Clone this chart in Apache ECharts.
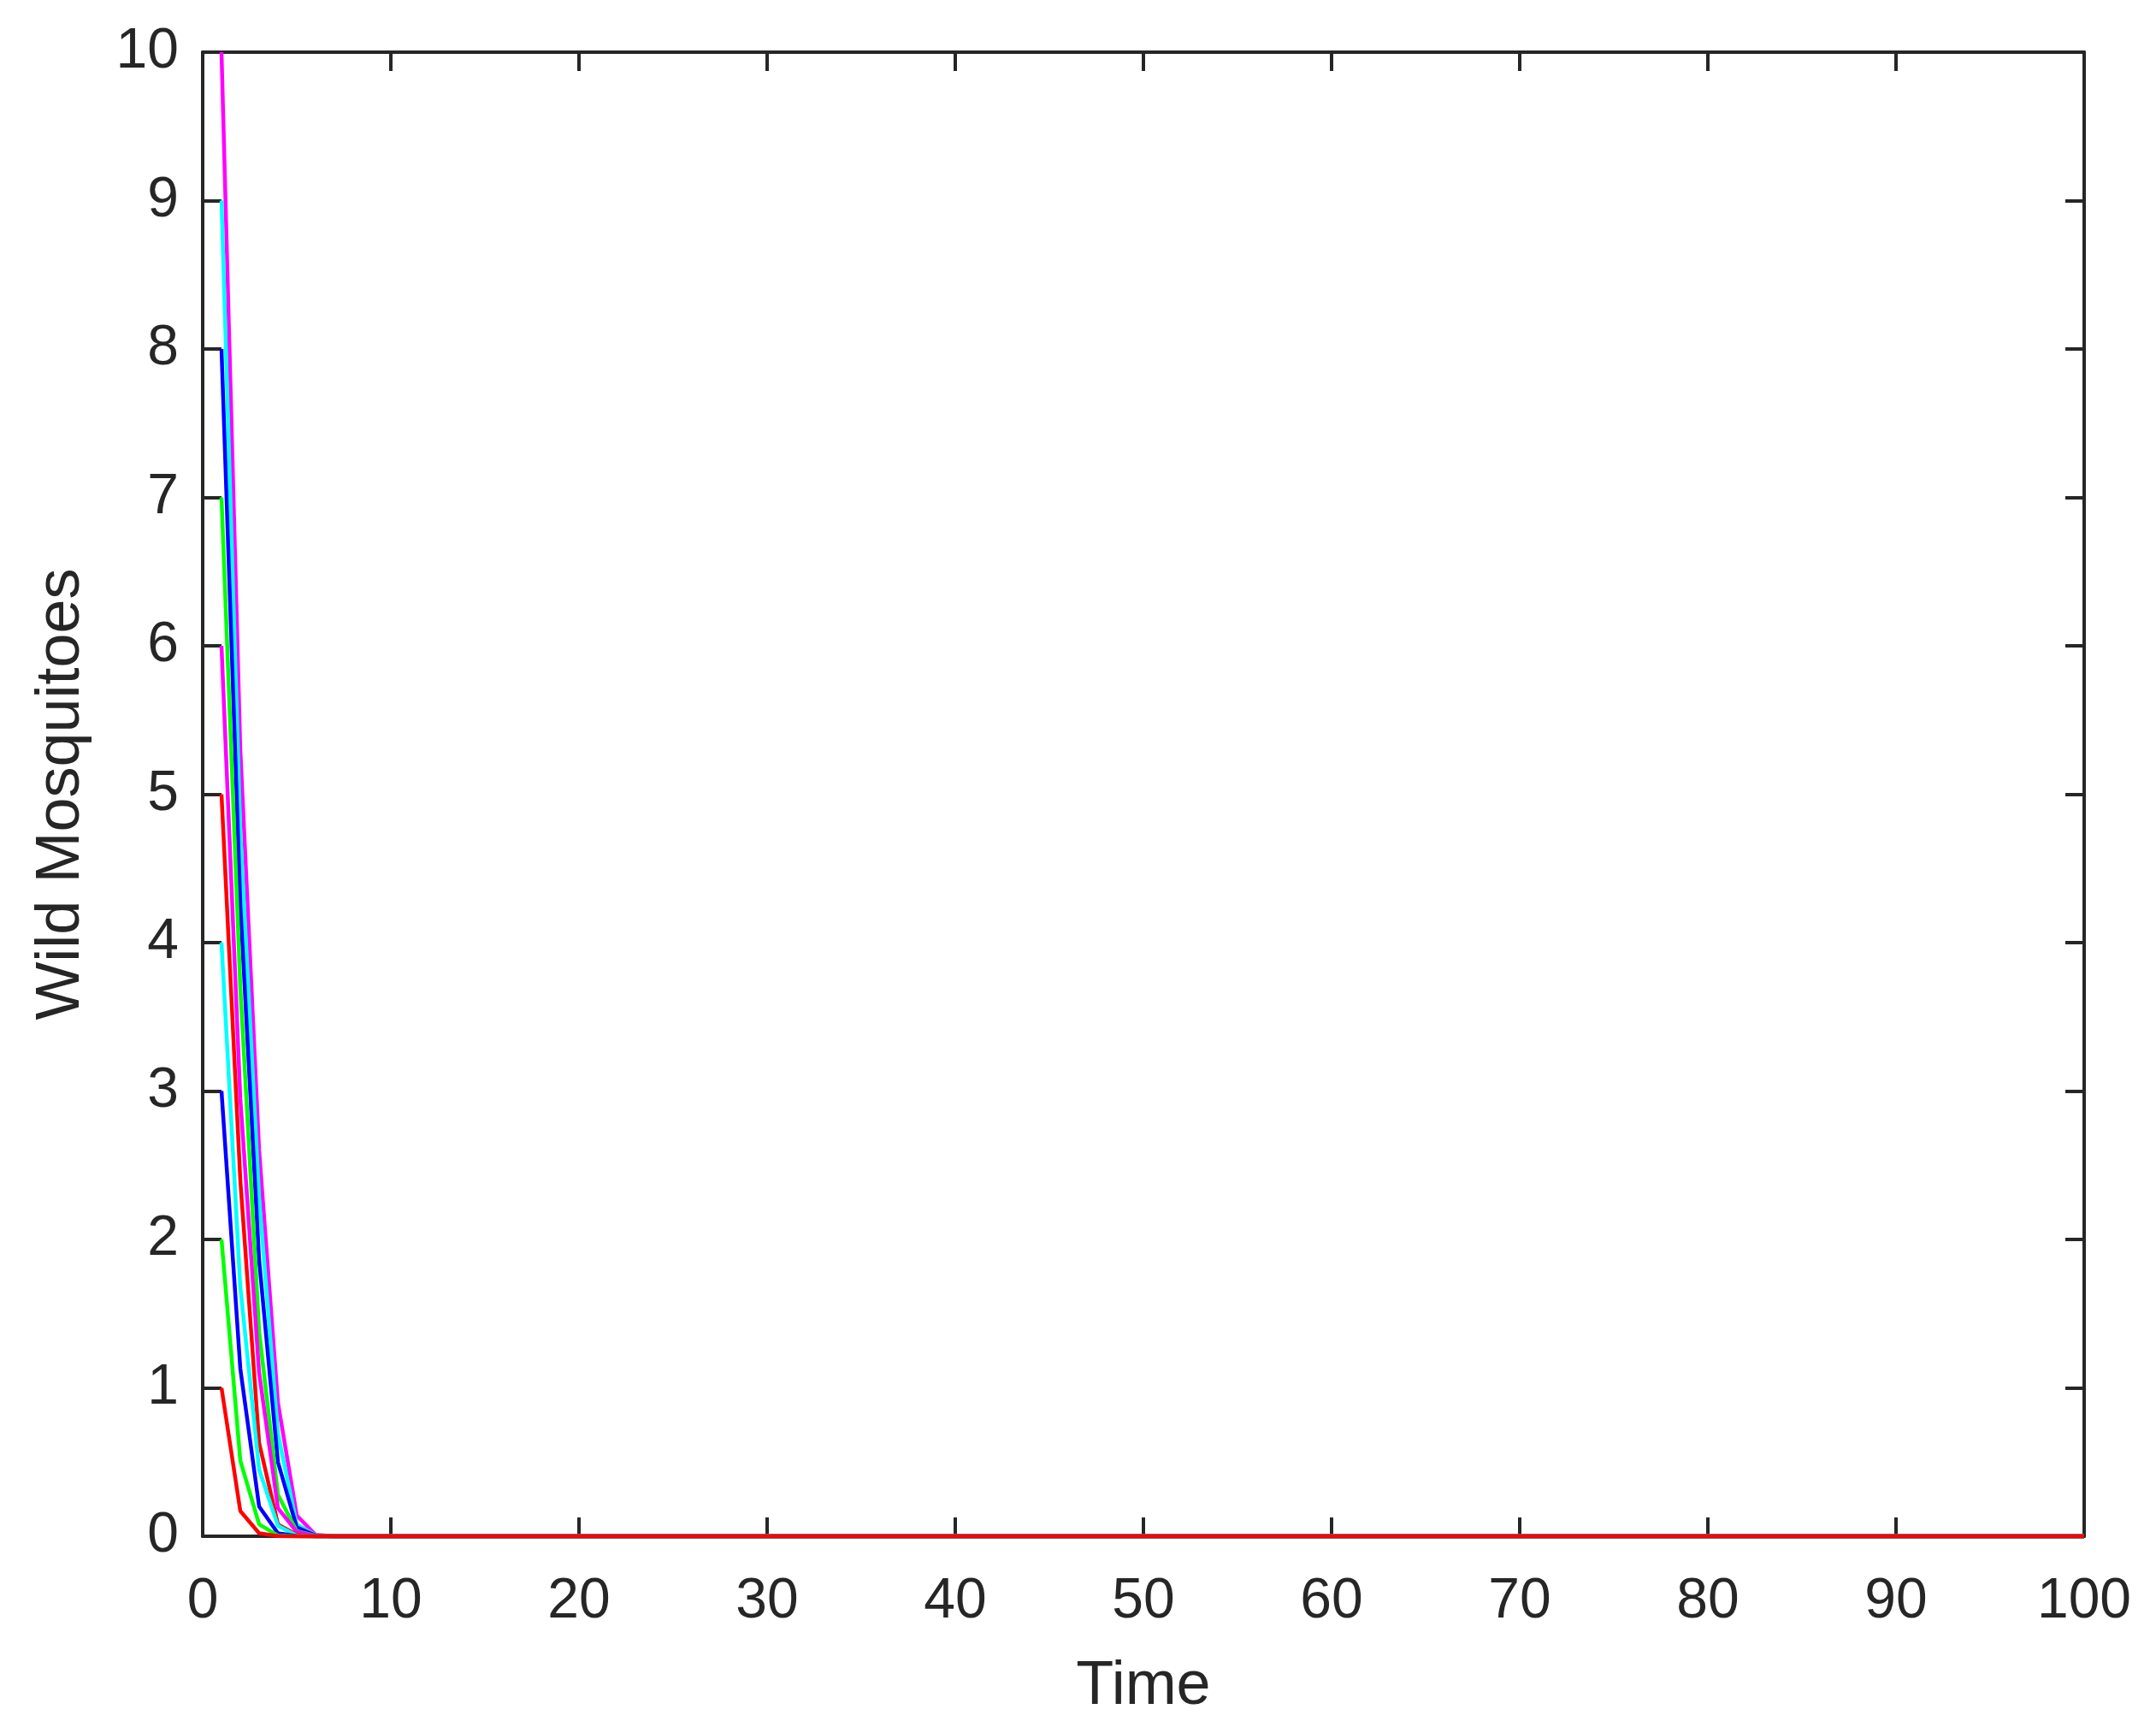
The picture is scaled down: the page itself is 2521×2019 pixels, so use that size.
<!DOCTYPE html>
<html>
<head>
<meta charset="utf-8">
<script src="https://cdn.jsdelivr.net/npm/echarts@6/dist/echarts.min.js"></script>
<style>
html,body{margin:0;padding:0;background:#fff;}
#chart{width:2521px;height:2019px;}
</style>
</head>
<body>
<div id="chart"></div>
<script>
// Time steps (each run then stays at 0 until t = 100)
const times = [1, 2, 3, 4, 5, 6, 7];
const endTime = 100;

// Wild mosquito populations, one run per initial value (1..10)
const run1  = [1,  0.17, 0.02, 0.002, 0,     0,     0];
const run2  = [2,  0.51, 0.08, 0.005, 0,     0,     0];
const run3  = [3,  1.13, 0.20, 0.02,  0.001, 0,     0];
const run4  = [4,  1.68, 0.45, 0.07,  0.005, 0,     0];
const run5  = [5,  2.40, 0.63, 0.08,  0.01,  0,     0];
const run6  = [6,  2.95, 1.10, 0.19,  0.03,  0.002, 0];
const run7  = [7,  3.70, 1.38, 0.28,  0.035, 0.003, 0];
const run8  = [8,  4.26, 1.86, 0.50,  0.06,  0.005, 0];
const run9  = [9,  4.75, 2.28, 0.69,  0.08,  0.007, 0];
const run10 = [10, 5.30, 2.60, 0.90,  0.14,  0.01,  0];

const runs = [run1, run2, run3, run4, run5, run6, run7, run8, run9, run10];
const runColors = ['#ff0000', '#00ff00', '#0000ff', '#00ffff', '#ff0000',
                   '#ff00ff', '#00ff00', '#0000ff', '#00ffff', '#ff00ff'];

const xTicks = { min: 0, max: 100, interval: 10 };
const yTicks = { min: 0, max: 10, interval: 1 };

const axisColor = '#262626';
const font = 'Liberation Sans, Arial, sans-serif';

function makeData(vals) {
  const d = vals.map((v, i) => [times[i], v]);
  d.push([endTime, 0]);
  return d;
}

const series = [];
for (let i = runs.length - 1; i >= 0; i--) {
  series.push({
    type: 'line',
    xAxisIndex: 0,
    yAxisIndex: 0,
    data: makeData(runs[i]),
    showSymbol: false,
    symbol: 'none',
    clip: false,
    lineStyle: { color: runColors[i], width: 4.5 },
    itemStyle: { color: runColors[i] },
    z: 3
  });
}

const lineStyle = { color: axisColor, width: 4 };

const chart = echarts.init(document.getElementById('chart'), null, { renderer: 'canvas' });
chart.setOption({
  animation: false,
  backgroundColor: '#ffffff',
  grid: { left: 237, right: 84, top: 61, bottom: 223, containLabel: false },
  xAxis: [
    {
      type: 'value', position: 'bottom',
      min: xTicks.min, max: xTicks.max, interval: xTicks.interval,
      axisLine: { show: true, onZero: false, lineStyle: lineStyle },
      axisTick: { show: true, inside: true, length: 22, lineStyle: lineStyle },
      axisLabel: { margin: 44, fontSize: 66, color: axisColor, fontFamily: font },
      splitLine: { show: false },
      name: 'Time', nameLocation: 'middle', nameGap: 140,
      nameTextStyle: { fontSize: 72, color: axisColor, fontFamily: font }
    },
    {
      type: 'value', position: 'top',
      min: xTicks.min, max: xTicks.max, interval: xTicks.interval,
      axisLine: { show: true, onZero: false, lineStyle: lineStyle },
      axisTick: { show: true, inside: true, length: 22, lineStyle: lineStyle },
      axisLabel: { show: false },
      splitLine: { show: false }
    }
  ],
  yAxis: [
    {
      type: 'value', position: 'left',
      min: yTicks.min, max: yTicks.max, interval: yTicks.interval,
      axisLine: { show: true, onZero: false, lineStyle: lineStyle },
      axisTick: { show: true, inside: true, length: 22, lineStyle: lineStyle },
      axisLabel: { margin: 28, fontSize: 66, color: axisColor, fontFamily: font },
      splitLine: { show: false },
      name: 'Wild Mosquitoes', nameLocation: 'middle', nameGap: 129,
      nameTextStyle: { fontSize: 72, color: axisColor, fontFamily: font }
    },
    {
      type: 'value', position: 'right',
      min: yTicks.min, max: yTicks.max, interval: yTicks.interval,
      axisLine: { show: true, onZero: false, lineStyle: lineStyle },
      axisTick: { show: true, inside: true, length: 22, lineStyle: lineStyle },
      axisLabel: { show: false },
      splitLine: { show: false }
    }
  ],
  series: series
});
</script>
</body>
</html>
